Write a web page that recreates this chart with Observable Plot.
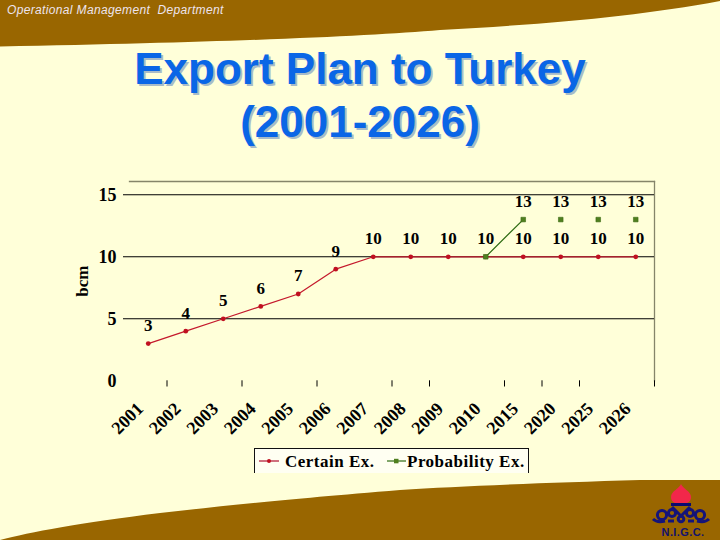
<!DOCTYPE html>
<html>
<head>
<meta charset="utf-8">
<script src="https://cdn.jsdelivr.net/npm/d3@7"></script>
<script src="https://cdn.jsdelivr.net/npm/@observablehq/plot@0.6"></script>
<style>
html,body{margin:0;padding:0;background:#FFFFD9;width:720px;height:540px;overflow:hidden}
#page{position:relative;width:720px;height:540px;overflow:hidden}
#deco,#chart{position:absolute;left:0;top:0}
#chart svg{display:block}
#dept{position:absolute;left:7px;top:3px;font:italic 12px "Liberation Sans";letter-spacing:.35px;color:#EDE4EE;white-space:pre}
#title{position:absolute;left:0;width:720px;top:42px;text-align:center;font:bold 44px/53px "Liberation Sans";color:#0A66E6;text-shadow:2px 2px 0 #A8BBC8}
#legend{position:absolute;left:254px;top:448px;width:273px;height:24px;background:#FFFFF2;border:solid #111;border-width:1.2px 1.2px 0 1.2px;font:bold 17px "Liberation Serif";color:#000;letter-spacing:.5px}
#legend span{position:absolute;top:3px;white-space:nowrap}
#legend svg{position:absolute;top:8px}
</style>
</head>
<body>
<div id="page">
<svg id="deco" width="720" height="540" viewBox="0 0 720 540">
<path fill="#996600" d="M0 0H720V1C640 16 551 24 440 30C367 36 240 42 0 46.5Z"/>
<path fill="#996600" d="M0 540C30 532 80 523 160 513C230 505 290 499 400 490C460 486 540 483 640 480H720V540Z"/>
<g>
<path fill="#F2274A" d="M681 484C683 489 691 491 691 497C691 501 688 503 686 503H676C674 503 671 501 671 497C671 491 679 489 681 484Z"/>
<rect x="671" y="503" width="20" height="3" fill="#0A0A70"/>
<g fill="none" stroke="#14147A" stroke-width="3">
<path d="M672 507l9 9 9-9"/>
<circle cx="662" cy="515" r="4.6"/><circle cx="700" cy="515" r="4.6"/>
<circle cx="672" cy="513" r="3.6"/><circle cx="690" cy="513" r="3.6"/>
<circle cx="681" cy="519" r="2.8"/>
<path d="M653 519c3 3 8 3 12 2M709 519c-3 3-8 3-12 2M668 521h6M688 521h6"/>
</g>
<text x="683" y="536" text-anchor="middle" font-family="Liberation Sans" font-weight="bold" font-size="11" letter-spacing=".4" fill="#12126E">N.I.G.C.</text>
</g>
</svg>
<div id="dept">Operational Management  Department</div>
<div id="title">Export Plan to Turkey<br>(2001-2026)</div>
<div id="chart"></div>
<div id="legend">
<svg style="left:4px" width="22" height="8"><line x1="0" x2="20" y1="4" y2="4" stroke="#B01030" stroke-width="1.2"/><circle cx="10" cy="4" r="2" fill="#C01020"/></svg>
<span style="left:30px">Certain Ex.</span>
<svg style="left:132px" width="22" height="8"><line x1="0" x2="19" y1="4" y2="4" stroke="#2E6B12" stroke-width="1.2"/><rect x="7" y="1.8" width="4.5" height="4.5" fill="#4F7F1F"/></svg>
<span style="left:152px">Probability Ex.</span>
</div>
</div>
<script>
const years = ["2001","2002","2003","2004","2005","2006","2007","2008","2009","2010","2015","2020","2025","2026"];
const certainValues = [3,4,5,6,7,9,10,10,10,10,10,10,10,10];
const probabilityYears = ["2010","2015","2020","2025","2026"];
const probabilityValues = [10,13,13,13,13];
const probabilityLineYears = ["2010","2015"];
const markedYears = ["2001","2003","2005","2007","2008","2010","2015","2020","2026"];
const gridValues = [5,10,15];
const yTicks = [0,5,10,15];

const certain = years.map((year,i)=>({year,value:certainValues[i]}));
const probability = probabilityYears.map((year,i)=>({year,value:probabilityValues[i]}));
const probabilityLine = probability.filter(d=>probabilityLineYears.includes(d.year));
const probabilityLabels = probability.filter(d=>d.value===13);

const chart = Plot.plot({
  width:720,height:540,
  marginLeft:129,marginRight:66,marginTop:181,marginBottom:159.7,
  style:{background:"transparent",fontFamily:"Liberation Serif",fontSize:"17px",fontWeight:"bold",color:"#000"},
  x:{type:"band",domain:years,padding:0,round:false,label:null},
  y:{domain:[0,16.07],label:null},
  marks:[
    Plot.frame({anchor:"top",stroke:"#85856A",strokeWidth:1.3}),
    Plot.frame({anchor:"right",stroke:"#85856A",strokeWidth:1.3}),
    Plot.ruleY(gridValues,{stroke:"#000",strokeWidth:1.1,insetLeft:-6}),
    Plot.ruleX(markedYears,{x:d=>d,y1:0,y2:-0.5,dx:18.75,stroke:"#000",strokeWidth:1}),
    Plot.axisY({ticks:yTicks,tickSize:0,tickPadding:13,label:null,fontSize:18,fontWeight:"bold",fontFamily:"Liberation Serif"}),
    Plot.axisX({anchor:"bottom",tickSize:0,tickPadding:25,dx:-8,tickRotate:-45,label:null,fontSize:18,fontWeight:"bold",fontFamily:"Liberation Serif"}),
    Plot.text(["bcm"],{frameAnchor:"left",textAnchor:"middle",text:d=>d,rotate:-90,dx:-47,fontSize:17,fontWeight:"bold",fontFamily:"Liberation Serif"}),
    Plot.line(certain,{x:"year",y:"value",stroke:"#C4182C",strokeWidth:1.2}),
    Plot.line(probabilityLine,{x:"year",y:"value",stroke:"#2E6B12",strokeWidth:1.2}),
    Plot.dot(certain,{x:"year",y:"value",r:2.4,fill:"#C01020",stroke:"none"}),
    Plot.dot(probability,{x:"year",y:"value",symbol:"square",r:2.6,fill:"#4F7F1F",stroke:"#3D6A14",strokeWidth:.6}),
    Plot.text(certain,{x:"year",y:"value",text:d=>String(d.value),dy:-18,fontSize:17,fontWeight:"bold",fontFamily:"Liberation Serif",fill:"#000"}),
    Plot.text(probabilityLabels,{x:"year",y:"value",text:d=>String(d.value),dy:-18,fontSize:17,fontWeight:"bold",fontFamily:"Liberation Serif",fill:"#000"})
  ]
});
document.getElementById("chart").appendChild(chart);
</script>
</body>
</html>
